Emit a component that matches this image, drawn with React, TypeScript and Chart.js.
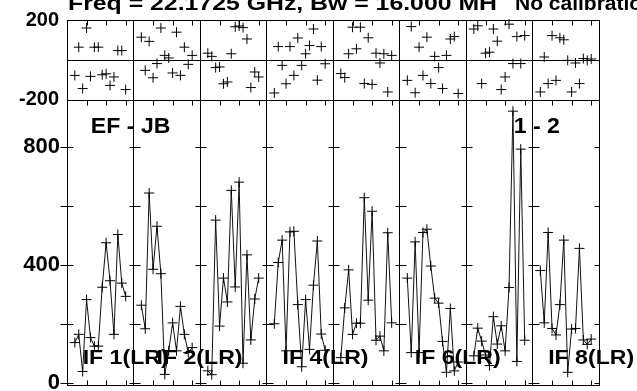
import React, { useEffect, useRef } from "react";
import { Chart, registerables } from "chart.js";

Chart.register(...registerables);

// ---------- text ----------
const TITLE_LEFT = "Freq = 22.1725 GHz, Bw = 16.000 MH";
const TITLE_RIGHT = "No calibratio";
const BASELINE_LABEL = "EF - JB";
const POL_LABEL = "1 - 2";
const IF_LABELS = ["IF 1(LR)", "IF 2(LR)", "IF 3(LR)", "IF 4(LR)", "IF 5(LR)", "IF 6(LR)", "IF 7(LR)", "IF 8(LR)"];
const IF_LABEL_VISIBLE = [true, true, false, true, false, true, false, true];

// ---------- channels ----------
const CHANNELS = [2, 3, 4, 5, 6, 7, 8, 9, 10, 11, 12, 13, 14, 15];
const CHANNEL_TICKS = [5, 10, 15];
const SLOTS_PER_IF = 17; // 16 channels + 1 slot padding per IF box
const N_IF = 8;

// ---------- amplitude (lower panel) ----------
const AMP_IF1 = [136, 164, 38, 282, 153, 124, 124, 324, 475, 346, 164, 503, 338, 293];
const AMP_IF2 = [263, 183, 644, 385, 531, 370, 28, 108, 203, 108, 259, 164, 102, 119];
const AMP_IF3 = [40, 27, 552, 192, 355, 274, 653, 325, 681, 66, 434, 145, 284, 355];
const AMP_IF4 = [200, 408, 484, 108, 512, 514, 265, 54, 282, 113, 331, 481, 165, 110];
const AMP_IF5 = [85, 254, 383, 164, 202, 202, 628, 280, 582, 144, 158, 108, 509, 203];
const AMP_IF6 = [355, 102, 478, 102, 510, 521, 396, 287, 270, 140, 35, 252, 40, 70];
const AMP_IF7 = [91, 185, 141, 94, 58, 224, 131, 193, 108, 323, 922, 72, 793, 144];
const AMP_IF8 = [381, 203, 510, 184, 162, 265, 484, 35, 182, 184, 456, 145, 130, 148];

// ---------- phase (upper panel, degrees) ----------
const PHASE_IF1 = [-77, 64, -143, 160, -82, 64, 64, -74, -69, -127, -85, 47, 47, -148];
const PHASE_IF2 = [114, -52, 93, -89, -18, 160, 23, 10, -65, 139, -77, 64, -22, 23];
const PHASE_IF3 = [34, 18, -38, -35, -119, -110, 31, 166, 170, 162, 105, -138, -60, -85];
const PHASE_IF4 = [-165, 67, -27, -119, 67, -77, 110, -27, 31, 72, 155, -101, 67, -19];
const PHASE_IF5 = [-68, -88, 31, 164, 56, 164, -118, 111, -122, 34, -15, 31, -160, 23];
const PHASE_IF6 = [-102, 167, -164, 64, -77, 114, -118, 18, -38, -143, 23, 105, 117, -168];
const PHASE_IF7 = [155, 171, -118, 34, 39, 155, 94, -148, -85, 179, -18, 117, -18, 122];
const PHASE_IF8 = [-160, 15, -118, 122, -102, 111, 101, -2, -160, -15, -118, 7, -2, 5];

// ---------- axes ----------
const PHASE_MIN = -200;
const PHASE_MAX = 200;
const PHASE_LABEL_TICKS = [-200, 200];
const AMP_MIN = -8;
const AMP_MAX = 960;
const AMP_LABEL_TICKS = [0, 400, 800];
const AMP_MARK_TICKS = [0, 200, 400, 600, 800];

const AMPLITUDES = [AMP_IF1, AMP_IF2, AMP_IF3, AMP_IF4, AMP_IF5, AMP_IF6, AMP_IF7, AMP_IF8];
const PHASES = [PHASE_IF1, PHASE_IF2, PHASE_IF3, PHASE_IF4, PHASE_IF5, PHASE_IF6, PHASE_IF7, PHASE_IF8];

// label anchor positions (axis units)
const IF_LABEL_X = [4.0, 22.9, 38, 55.1, 72, 88.9, 106, 123.0];
const IF_LABEL_Y = 65;
const BASELINE_LABEL_POS = { x: 6.1, y: 849 };
const POL_LABEL_POS = { x: 114.2, y: 849 };
const TITLE_LEFT_WIDTH = 429;
const LABEL_STRETCH = 1.1;

const FONT = '"Liberation Sans", Arial, Helvetica, sans-serif';

const possmPlugin = {
  id: "possmFrame",
  afterDatasetsDraw(chart: any) {
    const { ctx, chartArea } = chart;
    const xs = chart.scales.x;
    const yp = chart.scales.yp;
    const ya = chart.scales.ya;
    const a = (v: number) => Math.round(v) + 0.5;
    const seg = (x1: number, y1: number, x2: number, y2: number) => {
      ctx.beginPath();
      ctx.moveTo(x1, y1);
      ctx.lineTo(x2, y2);
      ctx.stroke();
    };
    const stretched = (text: string, x: number, y: number, sx: number) => {
      ctx.save();
      ctx.translate(x, y);
      ctx.scale(sx, 1);
      ctx.fillText(text, 0, 0);
      ctx.restore();
    };
    ctx.save();
    ctx.strokeStyle = "#000";
    ctx.lineWidth = 1;
    const L = a(chartArea.left);
    const R = a(chartArea.right);
    const T = a(chartArea.top);
    const B = a(chartArea.bottom);
    ctx.strokeRect(L, T, R - L, B - T);
    // divider between panels and zero-phase line
    seg(L, a(yp.bottom), R, a(yp.bottom));
    seg(L, a(yp.getPixelForValue(0)), R, a(yp.getPixelForValue(0)));
    // amplitude ticks on every IF separator
    for (let b = 0; b <= N_IF; b++) {
      const px = a(xs.getPixelForValue(b * SLOTS_PER_IF));
      for (const v of AMP_MARK_TICKS) {
        const py = a(ya.getPixelForValue(v));
        const x1 = b === 0 ? px - 7 : px - 5;
        const x2 = b === N_IF ? px : px + 6;
        seg(x1, py, x2, py);
      }
    }
    // channel ticks
    for (let k = 0; k < N_IF; k++) {
      for (const t of CHANNEL_TICKS) {
        const px = a(xs.getPixelForValue(k * SLOTS_PER_IF + t));
        seg(px, a(ya.bottom), px, a(ya.bottom) - 5);
        seg(px, a(ya.top), px, a(ya.top) + 5);
        seg(px, a(yp.top), px, a(yp.top) + 5);
      }
    }
    // text
    ctx.fillStyle = "#000";
    ctx.textBaseline = "alphabetic";
    ctx.textAlign = "left";
    ctx.font = `bold 21px ${FONT}`;
    IF_LABELS.forEach((lab, k) => {
      if (!IF_LABEL_VISIBLE[k]) return;
      stretched(lab, xs.getPixelForValue(IF_LABEL_X[k]), ya.getPixelForValue(IF_LABEL_Y), LABEL_STRETCH);
    });
    ctx.font = `bold 22px ${FONT}`;
    stretched(BASELINE_LABEL, xs.getPixelForValue(BASELINE_LABEL_POS.x), ya.getPixelForValue(BASELINE_LABEL_POS.y), 1.05);
    stretched(POL_LABEL, xs.getPixelForValue(POL_LABEL_POS.x), ya.getPixelForValue(POL_LABEL_POS.y), 1.05);
    ctx.font = `bold 21px ${FONT}`;
    const w = ctx.measureText(TITLE_LEFT).width;
    stretched(TITLE_LEFT, chartArea.left + 1, 10, TITLE_LEFT_WIDTH / w);
    ctx.fillText(TITLE_RIGHT, 515, 10);
    ctx.restore();
  },
};

const fixAxis = (scale: any) => {
  scale.width = 67;
  scale.paddingTop = 0;
  scale.paddingBottom = 0;
};

export default function App() {
  const canvasRef = useRef<HTMLCanvasElement | null>(null);

  useEffect(() => {
    const canvas = canvasRef.current;
    if (!canvas) return;

    const common = {
      borderColor: "#111",
      borderWidth: 1,
      pointStyle: "cross",
      pointRadius: 5,
      pointHoverRadius: 5,
      pointBorderColor: "#000",
      pointBackgroundColor: "#000",
      pointBorderWidth: 1,
      tension: 0,
      clip: 8,
    };

    const ampSets = AMPLITUDES.map((vals, k) => ({
      ...common,
      label: `Amp ${IF_LABELS[k]}`,
      data: CHANNELS.map((c, i) => ({ x: k * SLOTS_PER_IF + c, y: vals[i] })),
      xAxisID: "x",
      yAxisID: "ya",
      showLine: true,
    }));
    const phaseSets = PHASES.map((vals, k) => ({
      ...common,
      label: `Phase ${IF_LABELS[k]}`,
      data: CHANNELS.map((c, i) => ({ x: k * SLOTS_PER_IF + c, y: vals[i] })),
      xAxisID: "x",
      yAxisID: "yp",
      showLine: false,
    }));

    const chart = new Chart(canvas, {
      type: "scatter",
      data: { datasets: [...phaseSets, ...ampSets] as any },
      options: {
        responsive: false,
        maintainAspectRatio: false,
        devicePixelRatio: 1,
        animation: false,
        layout: { padding: { left: 0, right: 38, top: 20, bottom: 4 } },
        plugins: { legend: { display: false }, tooltip: { enabled: false }, title: { display: false } },
        scales: {
          x: {
            type: "linear",
            position: "bottom",
            min: 0,
            max: N_IF * SLOTS_PER_IF,
            afterBuildTicks: (scale: any) => {
              scale.ticks = Array.from({ length: N_IF + 1 }, (_, b) => ({ value: b * SLOTS_PER_IF }));
            },
            afterFit: (scale: any) => {
              scale.height = 0;
              scale.paddingLeft = 0;
              scale.paddingRight = 0;
            },
            ticks: { display: false },
            grid: { display: true, color: "#000", lineWidth: 1, drawTicks: false },
            border: { display: false },
          },
          ya: {
            type: "linear",
            position: "left",
            stack: "panels",
            stackWeight: 287,
            min: AMP_MIN,
            max: AMP_MAX,
            afterBuildTicks: (scale: any) => {
              scale.ticks = AMP_LABEL_TICKS.map((v) => ({ value: v }));
            },
            afterFit: fixAxis,
            ticks: {
              color: "#000",
              padding: 7,
              font: { family: FONT, weight: "bold", size: 22 },
              callback: (v: any) => String(v),
            },
            grid: { display: false, drawTicks: false },
            border: { display: false },
          },
          yp: {
            type: "linear",
            position: "left",
            stack: "panels",
            stackWeight: 80.5,
            min: PHASE_MIN,
            max: PHASE_MAX,
            afterBuildTicks: (scale: any) => {
              scale.ticks = PHASE_LABEL_TICKS.map((v) => ({ value: v }));
            },
            afterFit: fixAxis,
            ticks: {
              color: "#000",
              padding: 8,
              font: { family: FONT, weight: "bold", size: 20 },
              callback: (v: any) => String(v),
            },
            grid: { display: false, drawTicks: false },
            border: { display: false },
          },
        },
      } as any,
      plugins: [possmPlugin],
    });

    return () => chart.destroy();
  }, []);

  return (
    <div style={{ position: "fixed", left: 0, top: 0, width: 637, height: 391, background: "#fff" }}>
      <canvas ref={canvasRef} width={637} height={391} style={{ display: "block" }} />
    </div>
  );
}
